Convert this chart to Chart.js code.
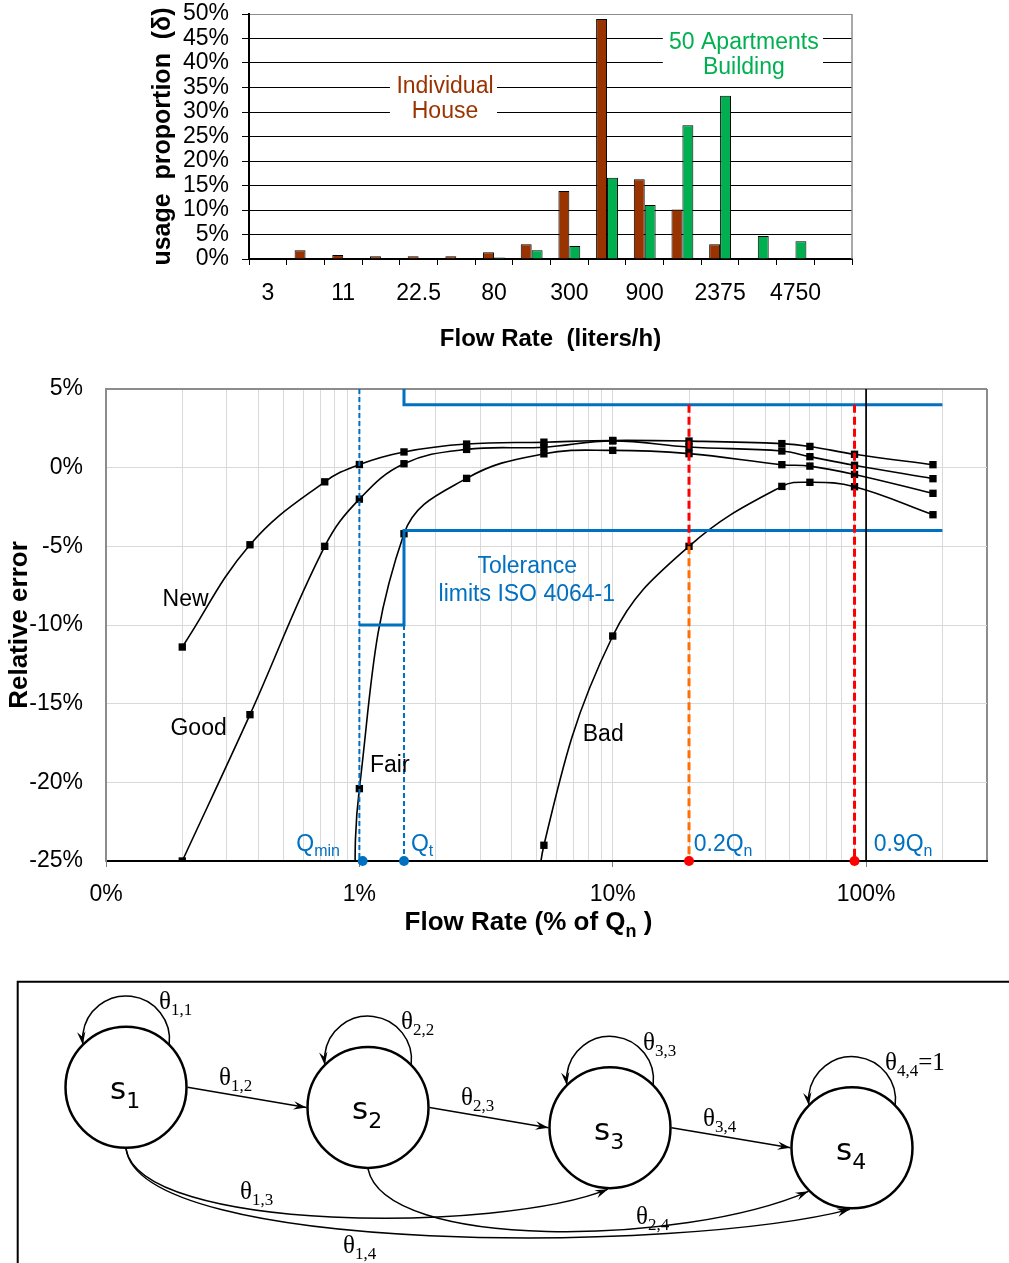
<!DOCTYPE html>
<html><head><meta charset="utf-8">
<script src="https://cdn.jsdelivr.net/npm/chart.js@4.4.0/dist/chart.umd.min.js"></script>
<style>
html,body{margin:0;padding:0;background:#fff;overflow:hidden;width:1009px;height:1263px;}
canvas{position:absolute;left:0;}
#c1{top:0px} #c2{top:370px} #c3{top:960px}
</style></head><body>
<canvas id="c1" width="1009" height="362"></canvas>
<canvas id="c2" width="1009" height="580"></canvas>
<canvas id="c3" width="1009" height="303"></canvas>
<script>
// ---------------- DATA ----------------
// Panel 1: usage proportion per flow-rate class
const flowLabels = ['3','','11','','22.5','','80','','300','','900','','2375','','4750',''];
const houseShare = [0, 1.8, 0.8, 0.55, 0.55, 0.55, 1.4, 3.0, 13.9, 49.0, 16.3, 10.1, 3.0, 0.1, 0, 0];
const buildingShare = [0, 0, 0, 0, 0, 0, 0.3, 1.8, 2.65, 16.6, 11.0, 27.3, 33.3, 4.7, 3.6, 0.1];

// Panel 2: relative error (%) vs flow rate (% of Qn)
const flowX = [0.2, 0.37, 0.73, 1.0, 1.5, 2.65, 5.35, 10, 20, 46.5, 60, 90, 183.6];
const errNew = [-11.4, -4.9, -0.9, 0.2, 1.0, 1.5, 1.62, 1.73, 1.69, 1.53, 1.35, 0.85, 0.19];
const errGood = [-25.0, -15.7, -5.0, -2.0, 0.25, 1.16, 1.3, 1.7, 1.31, 1.06, 0.70, 0.15, -0.70];
const fairX = [0.96, 1.0, 1.5, 2.65, 5.35, 10, 20, 46.5, 60, 90, 183.6];
const errFair = [-30, -20.4, -4.2, -0.68, 0.88, 1.1, 0.89, 0.19, 0.10, -0.43, -1.63];
const badX = [5.2, 5.35, 10, 20, 46.5, 60, 90, 183.6];
const errBad = [-30, -24.0, -10.7, -5.0, -1.19, -0.93, -1.21, -2.99];
const tolUpperX = [1.5, 1.5, 200];
const tolUpperY = [10, 4, 4];
const tolLowerX = [1.0, 1.5, 1.5, 200];
const tolLowerY = [-10, -10, -4, -4];
const qminX = 1.0, qtX = 1.5, q02X = 20, q09X = 90, qnX = 100;
const gridVals = [0.1,0.2,0.3,0.4,0.5,0.6,0.7,0.8,0.9,1,2,3,4,5,6,7,8,9,10,20,30,40,50,60,70,80,90,100,200,300];
const decadeVals = [0.1, 1, 10, 100];
const decadeLabels = ['0%', '1%', '10%', '100%'];

// Panel 3: Markov states
const stateIdx = [1, 2, 3, 4];
const stateNames = ['1', '2', '3', '4'];
const loopSubs = ['1,1', '2,2', '3,3', '4,4'];
const stepFrom = [0, 1, 2], stepTo = [1, 2, 3], stepSubs = ['1,2', '2,3', '3,4'];
const skipFrom = [0, 0, 1], skipTo = [2, 3, 3], skipSubs = ['1,3', '1,4', '2,4'];

// ---------------- COMMON ----------------
Chart.defaults.font.family = '"Liberation Sans", Arial, sans-serif';
Chart.defaults.color = '#000';
const SANS = '"Liberation Sans", Arial, sans-serif';
const SERIF = '"Liberation Serif", "Times New Roman", serif';

function drawRich(ctx, parts, x, y, align) {
  let w = 0;
  parts.forEach(p => { ctx.font = p.font; p.w = ctx.measureText(p.t).width; w += p.w; });
  let cx = align === 'right' ? x - w : (align === 'center' ? x - w / 2 : x);
  ctx.textAlign = 'left';
  parts.forEach(p => { ctx.font = p.font; ctx.fillText(p.t, cx, y + (p.dy || 0)); cx += p.w; });
}

// ---------------- PANEL 1 ----------------
const notes1 = [
  {lines: ['Individual', 'House'], color: '#993300', cx: 4.70, ly: [35.2, 30.1], box: [3.24, 6.08, 38.6, 26.7]},
  {lines: ['50 Apartments', 'Building'], color: '#00B050', cx: 12.63, ly: [44.1, 39.0], box: [10.48, 14.73, 46.7, 36.9]}
];
const panel1Plugin = {
  id: 'p1',
  afterDraw(chart) {
    const {ctx, chartArea: ca, scales: {x, y}} = chart;
    ctx.save();
    ctx.strokeStyle = '#8c8c8c'; ctx.lineWidth = 1.5;
    ctx.beginPath(); ctx.moveTo(ca.right, ca.top); ctx.lineTo(ca.right, ca.bottom); ctx.stroke();
    notes1.forEach(n => {
      const x1 = x.getPixelForValue(n.box[0]), x2 = x.getPixelForValue(n.box[1]);
      const y1 = y.getPixelForValue(n.box[2]), y2 = y.getPixelForValue(n.box[3]);
      ctx.fillStyle = '#fff'; ctx.fillRect(x1, y1, x2 - x1, y2 - y1);
      ctx.fillStyle = n.color; ctx.font = '23px ' + SANS; ctx.textAlign = 'center'; ctx.textBaseline = 'middle';
      n.lines.forEach((t, i) => ctx.fillText(t, x.getPixelForValue(n.cx), y.getPixelForValue(n.ly[i])));
    });
    ctx.restore();
  }
};
new Chart(document.getElementById('c1'), {
  type: 'bar',
  data: {labels: flowLabels, datasets: [
    {label: 'Individual House', data: houseShare, backgroundColor: '#993300', borderColor: '#000', borderWidth: 1, borderSkipped: 'bottom', categoryPercentage: 0.58, barPercentage: 1},
    {label: '50 Apartments Building', data: buildingShare, backgroundColor: '#00B050', borderColor: '#000', borderWidth: 1, borderSkipped: 'bottom', categoryPercentage: 0.58, barPercentage: 1}
  ]},
  options: {
    responsive: false, animation: false, events: [],
    layout: {autoPadding: false, padding: {left: 0, top: 14, right: 157, bottom: 0}},
    plugins: {legend: {display: false}, tooltip: {enabled: false}},
    scales: {
      x: {
        grid: {display: true, drawOnChartArea: false, drawTicks: true, tickLength: 6, color: '#000', tickColor: '#000', offset: true},
        border: {color: '#000', width: 2},
        ticks: {autoSkip: false, maxRotation: 0, minRotation: 0, font: {size: 23}, color: '#000', padding: 15},
        title: {display: true, text: 'Flow Rate  (liters/h)', font: {size: 24, weight: 'bold'}, color: '#000', padding: {top: 0, bottom: 8}},
        afterFit: s => { s.height = 362 - 259; s.paddingLeft = 0; s.paddingRight = 0; }
      },
      y: {
        min: 0, max: 50,
        ticks: {stepSize: 5, autoSkip: false, callback: v => v + '%', font: {size: 23}, color: '#000', padding: 13},
        grid: {color: c => (c.tick && c.tick.value === 50) ? '#8c8c8c' : '#000', lineWidth: 1, tickLength: 7, tickColor: '#000'},
        border: {color: '#000', width: 2},
        title: {display: true, text: 'usage  proportion  (δ)', font: {size: 25, weight: 'bold'}, color: '#000', padding: {top: 148, bottom: 0}},
        afterFit: s => { s.width = 249; s.paddingTop = 0; s.paddingBottom = 0; }
      }
    }
  },
  plugins: [panel1Plugin]
});

// ---------------- PANEL 2 ----------------
const pts = (xs, ys) => xs.map((v, i) => ({x: v, y: ys[i]}));
const curveStyle = {borderColor: '#000', borderWidth: 1.6, backgroundColor: '#000', pointStyle: 'rect',
  pointRadius: c => (c.raw && c.raw.y < -25.5) ? 0 : 5.2, pointBorderWidth: 0, pointBackgroundColor: '#000', tension: 0.4, order: 4};
const vline = (xv, y1, y2, color, width, dash) => ({data: [{x: xv, y: y1}, {x: xv, y: y2}], borderColor: color, borderWidth: width, borderDash: dash, pointRadius: 0, tension: 0, order: 1});
const textNotes2 = [
  {t: 'New', x: 0.206, y: -8.37, color: '#000'},
  {t: 'Good', x: 0.232, y: -16.57, color: '#000'},
  {t: 'Fair', x: 1.319, y: -18.93, color: '#000'},
  {t: 'Bad', x: 9.17, y: -17.0, color: '#000'},
  {t: 'Tolerance', x: 4.6, y: -6.27, color: '#0070C0'},
  {t: 'limits ISO 4064-1', x: 4.58, y: -8.05, color: '#0070C0'}
];
const qNotes = [
  {main: 'Q', sub: 'min', x: 0.838, align: 'right'},
  {main: 'Q', sub: 't', x: 1.597, align: 'left'},
  {main: '0.2Q', sub: 'n', x: 20.87, align: 'left'},
  {main: '0.9Q', sub: 'n', x: 107.1, align: 'left'}
];
const qBaseY = -24.38;
const panel2Plugin = {
  id: 'p2',
  afterDraw(chart) {
    const {ctx, chartArea: ca, scales: {x, y}} = chart;
    ctx.save();
    ctx.textBaseline = 'middle'; ctx.textAlign = 'center'; ctx.font = '23px ' + SANS;
    textNotes2.forEach(n => { ctx.fillStyle = n.color; ctx.fillText(n.t, x.getPixelForValue(n.x), y.getPixelForValue(n.y)); });
    ctx.textBaseline = 'alphabetic'; ctx.fillStyle = '#0070C0';
    qNotes.forEach(q => {
      drawRich(ctx, [{t: q.main, font: '23px ' + SANS}, {t: q.sub, font: '16px ' + SANS, dy: 5}],
        x.getPixelForValue(q.x), y.getPixelForValue(qBaseY), q.align);
    });
    ctx.fillStyle = '#000';
    drawRich(ctx, [{t: 'Flow Rate (% of Q', font: 'bold 26px ' + SANS}, {t: 'n', font: 'bold 18px ' + SANS, dy: 7}, {t: ' )', font: 'bold 26px ' + SANS}],
      (ca.left + ca.right) / 2 - 18, ca.bottom + 69, 'center');
    ctx.restore();
  }
};
new Chart(document.getElementById('c2'), {
  type: 'line',
  data: {datasets: [
    {type: 'scatter', data: pts([qminX * 1.03, qtX], [-25, -25]), pointRadius: 5, pointBackgroundColor: '#0070C0', pointBorderWidth: 0, showLine: false, clip: false, order: 0},
    {type: 'scatter', data: pts([q02X, q09X], [-25, -25]), pointRadius: 5, pointBackgroundColor: '#FF0000', pointBorderWidth: 0, showLine: false, clip: false, order: 0},
    vline(qminX, 5, -25, '#0070C0', 2, [5, 3]),
    vline(qtX, -10, -25, '#0070C0', 2, [5, 3]),
    vline(q02X, 4, -5, '#FF0000', 3, [8, 4]),
    vline(q02X, -5, -25, '#FF7000', 3, [8, 4]),
    vline(q09X, 4, -25, '#FF0000', 3, [8, 4]),
    vline(qnX, 5, -25, '#000', 1, []),
    {data: pts(tolUpperX, tolUpperY), borderColor: '#0070C0', borderWidth: 3, pointRadius: 0, tension: 0, order: 2},
    {data: pts(tolLowerX, tolLowerY), borderColor: '#0070C0', borderWidth: 3, pointRadius: 0, tension: 0, order: 2},
    Object.assign({label: 'New', data: pts(flowX, errNew)}, curveStyle),
    Object.assign({label: 'Good', data: pts(flowX, errGood)}, curveStyle),
    Object.assign({label: 'Fair', data: pts(fairX, errFair)}, curveStyle),
    Object.assign({label: 'Bad', data: pts(badX, errBad)}, curveStyle)
  ]},
  options: {
    responsive: false, animation: false, events: [],
    layout: {autoPadding: false, padding: {left: 0, top: 19, right: 22, bottom: 0}},
    plugins: {legend: {display: false}, tooltip: {enabled: false}},
    scales: {
      x: {
        type: 'logarithmic', min: 0.1, max: 300,
        afterBuildTicks: s => { s.ticks = gridVals.map(v => ({value: v, major: decadeVals.includes(v)})); },
        ticks: {autoSkip: false, maxRotation: 0, minRotation: 0, font: {size: 23}, color: '#000', padding: 14,
          callback: (v, i, t) => { const k = decadeVals.indexOf(t[i].value); return k >= 0 ? decadeLabels[k] : ''; }},
        grid: {color: c => (c.tick && c.tick.value === 300) ? '#8c8c8c' : '#d9d9d9',
               lineWidth: c => (c.tick && c.tick.value === 300) ? 2 : 1,
               tickLength: 6, tickColor: c => (c.tick && decadeVals.includes(c.tick.value)) ? '#7f7f7f' : 'rgba(0,0,0,0)'},
        border: {color: '#000', width: 2},
        afterFit: s => { s.height = 580 - 491; s.paddingLeft = 0; s.paddingRight = 0; }
      },
      y: {
        min: -25, max: 5,
        ticks: {stepSize: 5, autoSkip: false, callback: v => v + '%', font: {size: 23}, color: '#000', padding: 23},
        grid: {color: c => (c.tick && c.tick.value === 5) ? '#8c8c8c' : '#d9d9d9',
               lineWidth: c => (c.tick && c.tick.value === 5) ? 2 : 1, drawTicks: false},
        border: {color: '#8c8c8c', width: 2},
        title: {display: true, text: 'Relative error', font: {size: 26, weight: 'bold'}, color: '#000', padding: {top: 4, bottom: 0}},
        afterFit: s => { s.width = 106; s.paddingTop = 0; s.paddingBottom = 0; }
      }
    }
  },
  plugins: [panel2Plugin]
});

// ---------------- PANEL 3 ----------------
const NODE_R = 60.5;
const skipStyle = [
  {end: 'bottom', c1: [14, 84], c2: [-108, 44], label: [114, 112]},
  {end: 'bottom', c1: [14, 107], c2: [-170, 44], label: [217, 166]},
  {end: 'lowerleft', c1: [17, 82], c2: [-127, 55], label: [268, 117]}
];
function arrowHead(ctx, tx, ty, dx, dy) {
  const L = Math.hypot(dx, dy); dx /= L; dy /= L;
  const len = 13, half = 4.2, px = -dy, py = dx;
  ctx.beginPath();
  ctx.moveTo(tx, ty);
  ctx.lineTo(tx - len * dx + half * px, ty - len * dy + half * py);
  ctx.lineTo(tx - 0.65 * len * dx, ty - 0.65 * len * dy);
  ctx.lineTo(tx - len * dx - half * px, ty - len * dy - half * py);
  ctx.closePath(); ctx.fill();
}
function theta(ctx, x, yb, sub, suffix) {
  const parts = [{t: 'θ', font: '25px ' + SERIF}, {t: sub, font: '17px ' + SERIF, dy: 6}];
  if (suffix) parts.push({t: suffix, font: '25px ' + SERIF});
  drawRich(ctx, parts, x, yb, 'left');
}
const diagramPlugin = {
  id: 'p3',
  afterDatasetsDraw(chart) {
    const {ctx, width, height} = chart;
    const nodes = chart.getDatasetMeta(0).data.map(p => ({x: p.x, y: p.y}));
    const r = NODE_R;
    ctx.save();
    ctx.strokeStyle = '#000'; ctx.fillStyle = '#000'; ctx.lineCap = 'butt';
    ctx.lineWidth = 2;
    ctx.beginPath(); ctx.moveTo(17.7, height + 5); ctx.lineTo(17.7, 21.7); ctx.lineTo(width + 5, 21.7); ctx.stroke();
    ctx.lineWidth = 1.5;
    const ldy = -47.8, lr = 43.5, a1 = Math.atan2(5.3, 43.2), a2 = Math.PI - a1;
    nodes.forEach(n => {
      const cx = n.x, cy = n.y + ldy;
      ctx.beginPath(); ctx.arc(cx, cy, lr, a1, a2, true); ctx.stroke();
      arrowHead(ctx, cx + lr * Math.cos(a2), cy + lr * Math.sin(a2), Math.sin(a2), -Math.cos(a2));
    });
    stepFrom.forEach((f, i) => {
      const a = nodes[f], b = nodes[stepTo[i]];
      const sx = a.x + r + 1, sy = a.y, tx = b.x - r - 1, ty = b.y;
      ctx.beginPath(); ctx.moveTo(sx, sy); ctx.lineTo(tx, ty); ctx.stroke();
      arrowHead(ctx, tx, ty, tx - sx, ty - sy);
    });
    skipFrom.forEach((f, i) => {
      const st = skipStyle[i], a = nodes[f], b = nodes[skipTo[i]];
      const p0 = [a.x, a.y + r + 1];
      const p3 = st.end === 'bottom' ? [b.x - 2, b.y + r + 1] : [b.x - (r + 1) * Math.SQRT1_2, b.y + (r + 1) * Math.SQRT1_2];
      const p1 = [p0[0] + st.c1[0], p0[1] + st.c1[1]], p2 = [p3[0] + st.c2[0], p3[1] + st.c2[1]];
      ctx.beginPath(); ctx.moveTo(p0[0], p0[1]); ctx.bezierCurveTo(p1[0], p1[1], p2[0], p2[1], p3[0], p3[1]); ctx.stroke();
      arrowHead(ctx, p3[0], p3[1], p3[0] - p2[0], p3[1] - p2[1]);
    });
    ctx.textBaseline = 'alphabetic';
    nodes.forEach((n, i) => {
      drawRich(ctx, [{t: 's', font: '31px "DejaVu Sans", sans-serif'}, {t: stateNames[i], font: '22px "DejaVu Sans", sans-serif', dy: 9}], n.x - 16, n.y + 12, 'left');
      theta(ctx, n.x + 33, n.y - 78, loopSubs[i], i === 3 ? '=1' : '');
    });
    stepFrom.forEach((f, i) => theta(ctx, nodes[f].x + 93, nodes[f].y - 2, stepSubs[i]));
    skipFrom.forEach((f, i) => theta(ctx, nodes[f].x + skipStyle[i].label[0], nodes[f].y + skipStyle[i].label[1], skipSubs[i]));
    ctx.restore();
  }
};
new Chart(document.getElementById('c3'), {
  type: 'scatter',
  data: {datasets: [{data: stateIdx.map(i => ({x: i, y: i})), pointRadius: NODE_R, pointStyle: 'circle',
    pointBorderWidth: 2.5, pointBorderColor: '#000', pointBackgroundColor: '#fff', clip: false}]},
  options: {
    responsive: false, animation: false, events: [],
    layout: {autoPadding: false, padding: 0},
    plugins: {legend: {display: false}, tooltip: {enabled: false}},
    scales: {
      x: {type: 'linear', display: false, min: 0.4793, max: 4.6488},
      y: {type: 'linear', display: false, min: -5.30, max: 9.70, reverse: true}
    }
  },
  plugins: [diagramPlugin]
});
</script>
</body></html>
